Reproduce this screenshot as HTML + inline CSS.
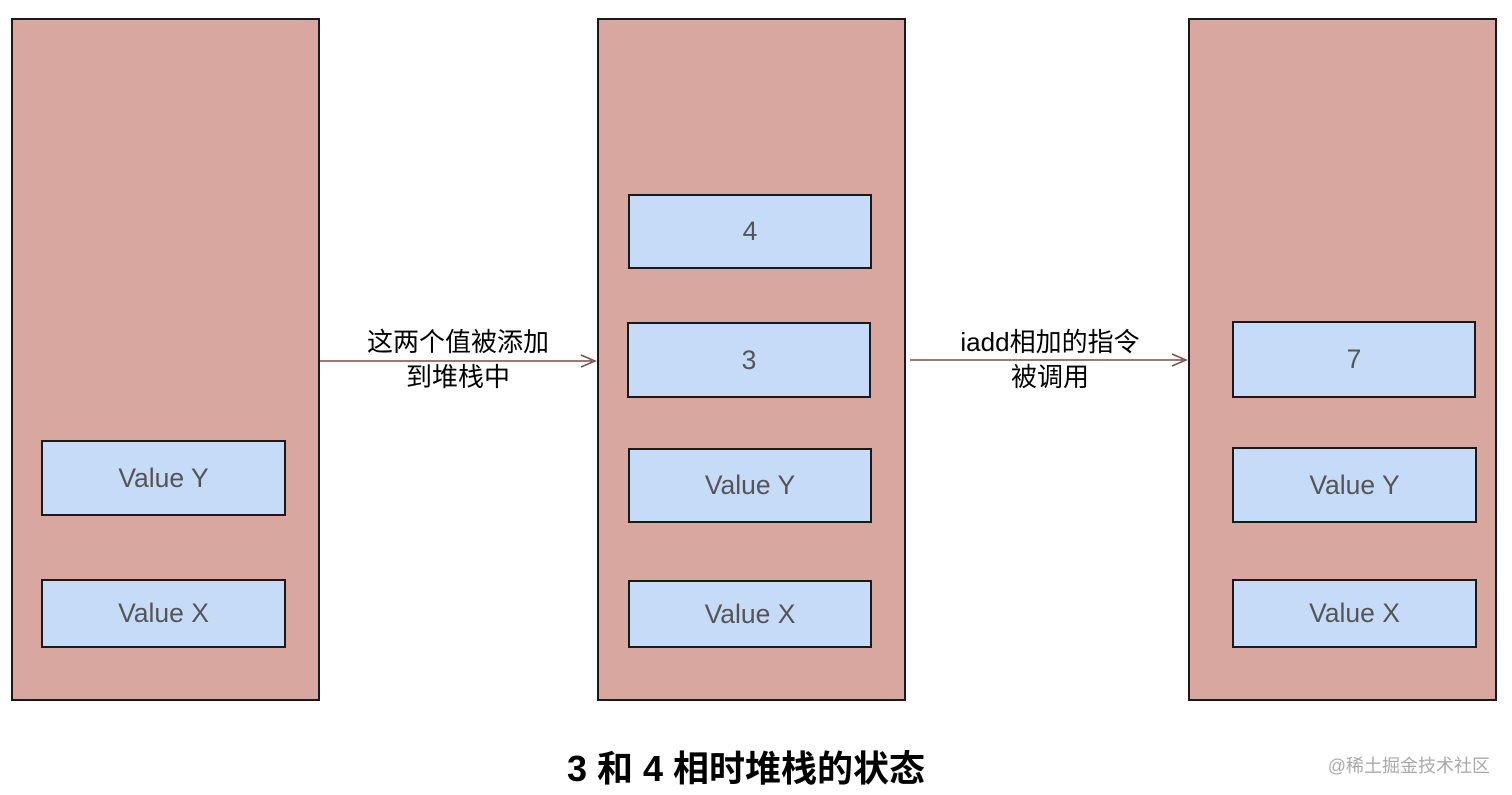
<!DOCTYPE html>
<html><head><meta charset="utf-8"><style>
body{margin:0;width:1512px;height:795px;background:#fff;position:relative;overflow:hidden;font-family:"Liberation Sans","Noto Sans CJK SC",sans-serif}
.s{position:absolute;background:#d8a7a0;border:2px solid #1a1a1a;box-sizing:border-box}
.b{position:absolute;background:#c6dbf8;border:2px solid #1a1a1a;box-sizing:border-box;display:flex;align-items:center;justify-content:center;color:#555;font-size:26.5px}
.l{position:absolute;text-align:center;font-size:26px;color:#000;line-height:35px}
</style></head><body>
<div class="s" style="left:11px;top:18px;width:309px;height:683px"></div>
<div class="s" style="left:597px;top:18px;width:309px;height:683px"></div>
<div class="s" style="left:1188px;top:18px;width:309px;height:683px"></div>
<div class="b" style="left:41px;top:440px;width:245px;height:76px">Value Y</div>
<div class="b" style="left:41px;top:579px;width:245px;height:69px">Value X</div>
<div class="b" style="left:628px;top:194px;width:244px;height:75px">4</div>
<div class="b" style="left:627px;top:322px;width:244px;height:76px">3</div>
<div class="b" style="left:628px;top:448px;width:244px;height:75px">Value Y</div>
<div class="b" style="left:628px;top:580px;width:244px;height:68px">Value X</div>
<div class="b" style="left:1232px;top:321px;width:244px;height:77px">7</div>
<div class="b" style="left:1232px;top:447px;width:245px;height:76px">Value Y</div>
<div class="b" style="left:1232px;top:579px;width:245px;height:69px">Value X</div>
<svg style="position:absolute;left:0;top:0" width="1512" height="795">
<line x1="320" y1="361" x2="592" y2="361" stroke="#7a4f45" stroke-width="1.5"/>
<path d="M581 355 L595 361 L581 367" fill="none" stroke="#7a4f45" stroke-width="1.5"/>
<line x1="910" y1="360" x2="1183" y2="360" stroke="#7a4f45" stroke-width="1.5"/>
<path d="M1172 354 L1186 360 L1172 366" fill="none" stroke="#7a4f45" stroke-width="1.5"/>
</svg>
<div class="l" style="left:330px;top:325px;width:256px">这两个值被添加<br>到堆栈中</div>
<div class="l" style="left:920px;top:325px;width:260px">iadd相加的指令<br>被调用</div>
<div style="position:absolute;left:446px;top:740px;width:600px;text-align:center;font-size:36px;font-weight:bold">3 和 4 相时堆栈的状态</div>
<div style="position:absolute;right:22px;top:752px;font-size:18px;color:#aaa">@稀土掘金技术社区</div>
</body></html>
